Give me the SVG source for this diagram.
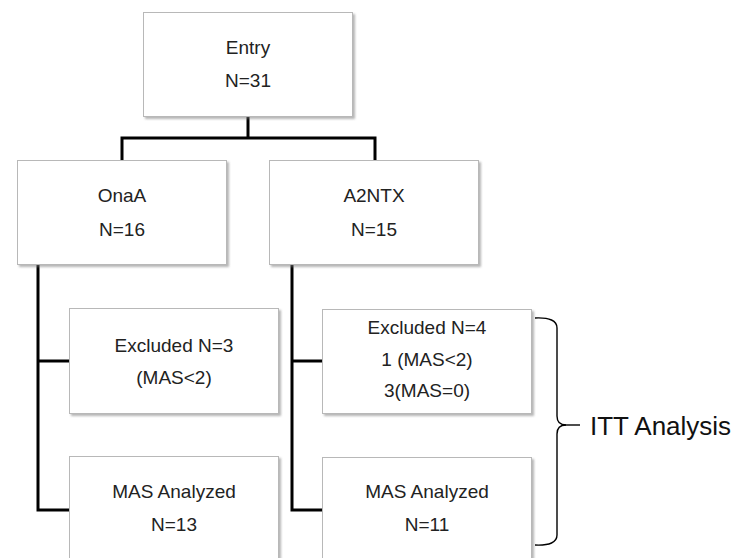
<svg xmlns="http://www.w3.org/2000/svg" width="737" height="558" viewBox="0 0 737 558">
  <defs>
    <filter id="shadow" x="-10%" y="-10%" width="125%" height="125%">
      <feDropShadow dx="2" dy="2" stdDeviation="1.2" flood-color="#7a7a7a" flood-opacity="0.55"/>
    </filter>
  </defs>
  <style>
    .box { fill: #ffffff; stroke: #b8b8b8; stroke-width: 1; filter: url(#shadow); }
    .lbl { font-family: "Liberation Sans", Arial, sans-serif; font-size: 19px; fill: #222222; text-anchor: middle; }
    .conn { fill: none; stroke: #000000; stroke-width: 3; stroke-linejoin: miter; stroke-linecap: butt; }
    .brace { fill: none; stroke: #000000; stroke-width: 1.4; }
    .big { font-family: "Liberation Sans", Arial, sans-serif; font-size: 26px; fill: #111111; }
  </style>
  <rect width="737" height="558" fill="#ffffff"/>

  <!-- connectors -->
  <g id="connectors">
    <path class="conn" d="M248 116 V138"/>
    <path class="conn" d="M122 160 V138 H375 V160"/>
    <path class="conn" d="M38 264 V510 H69"/>
    <path class="conn" d="M38 361 H69"/>
    <path class="conn" d="M292 264 V510 H322"/>
    <path class="conn" d="M292 361 H322"/>
  </g>

  <g id="entry">
    <rect class="box" x="143.5" y="12.5" width="209" height="104"/>
    <text class="lbl" x="248" y="54">Entry</text>
    <text class="lbl" x="248" y="87">N=31</text>
  </g>

  <g id="onaa">
    <rect class="box" x="17.5" y="160.5" width="209" height="104"/>
    <text class="lbl" x="122" y="202">OnaA</text>
    <text class="lbl" x="122" y="236">N=16</text>
  </g>

  <g id="a2ntx">
    <rect class="box" x="269.5" y="160.5" width="209" height="104"/>
    <text class="lbl" x="374" y="202">A2NTX</text>
    <text class="lbl" x="374" y="236">N=15</text>
  </g>

  <g id="onaa-excluded">
    <rect class="box" x="69.5" y="308.5" width="209" height="105"/>
    <text class="lbl" x="174" y="352">Excluded N=3</text>
    <text class="lbl" x="174" y="384">(MAS&lt;2)</text>
  </g>

  <g id="a2ntx-excluded">
    <rect class="box" x="322.5" y="309.5" width="209" height="104"/>
    <text class="lbl" x="427" y="334">Excluded N=4</text>
    <text class="lbl" x="427" y="366">1 (MAS&lt;2)</text>
    <text class="lbl" x="427" y="397">3(MAS=0)</text>
  </g>

  <g id="onaa-analyzed">
    <rect class="box" x="69.5" y="456.5" width="209" height="110"/>
    <text class="lbl" x="174" y="498">MAS Analyzed</text>
    <text class="lbl" x="174" y="531">N=13</text>
  </g>

  <g id="a2ntx-analyzed">
    <rect class="box" x="322.5" y="457.5" width="209" height="110"/>
    <text class="lbl" x="427" y="498">MAS Analyzed</text>
    <text class="lbl" x="427" y="531">N=11</text>
  </g>

  <g id="itt">
    <path class="brace" d="M535 318 Q557 317 557 328 V416 Q557 425 566 425 Q557 425 557 434 V535 Q557 546 535 545"/>
    <path class="brace" d="M564 425 H580"/>
    <text class="big" x="590" y="435">ITT Analysis</text>
  </g>
</svg>
